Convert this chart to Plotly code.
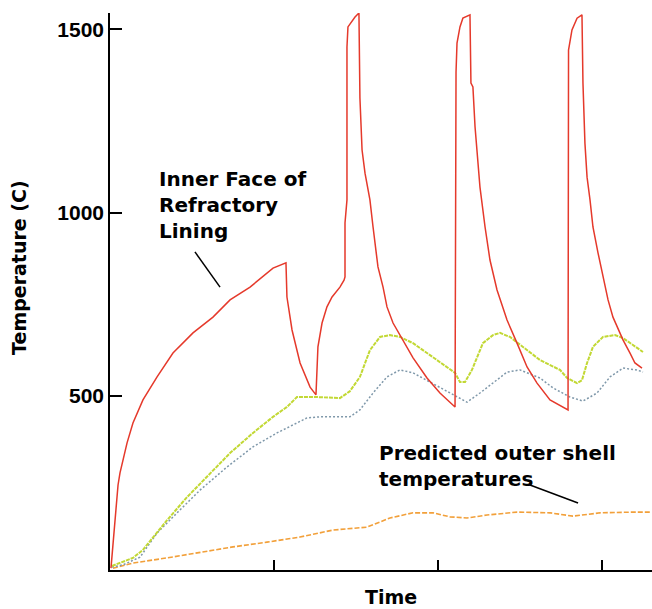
import plotly.graph_objects as go

# ---- data (time in arbitrary units, temperature in C) ----
inner_t = [0.006, 0.018, 0.030, 0.037, 0.049, 0.061, 0.085, 0.104, 0.140, 0.201, 0.287, 0.384, 0.506, 0.628,
           0.732, 0.854, 0.994, 1.073, 1.079, 1.110, 1.159, 1.220, 1.256, 1.262, 1.268, 1.293, 1.323, 1.354,
           1.402, 1.427, 1.433, 1.433, 1.445, 1.445, 1.451, 1.494, 1.518, 1.524, 1.537, 1.555, 1.585, 1.604,
           1.634, 1.665, 1.689, 1.726, 1.768, 1.848, 1.933, 2.012, 2.104, 2.110, 2.116, 2.134, 2.152, 2.195,
           2.201, 2.213, 2.226, 2.238, 2.256, 2.287, 2.317, 2.360, 2.421, 2.482, 2.543, 2.604, 2.683, 2.793,
           2.793, 2.796, 2.817, 2.848, 2.878, 2.884, 2.896, 2.909, 2.927, 2.945, 2.976, 3.006, 3.037, 3.067,
           3.128, 3.171, 3.201, 3.244]
inner_v = [30, 93, 161, 197, 257, 290, 339, 372, 426, 489, 552, 617, 672, 715,
           762, 797, 849, 863, 770, 680, 590, 524, 503, 579, 634, 699, 743, 770,
           797, 816, 825, 972, 1035, 1452, 1507, 1534, 1545, 1313, 1171, 1108, 1035, 961,
           852, 797, 743, 699, 666, 604, 549, 508, 470, 1384, 1463, 1507, 1531, 1540,
           1354, 1343, 1234, 1163, 1070, 961, 871, 789, 707, 644, 579, 535, 489, 462,
           1335, 1444, 1499, 1531, 1540, 1354, 1190, 1097, 1035, 961, 890, 825, 762, 715,
           653, 617, 590, 576]

mid_t = [0.012, 0.061, 0.140, 0.201, 0.348, 0.470, 0.591, 0.732, 0.872, 0.994, 1.079, 1.140, 1.262, 1.402,
         1.463, 1.524, 1.585, 1.646, 1.707, 1.768, 1.848, 1.951, 2.055, 2.104, 2.134, 2.165, 2.207, 2.238,
         2.274, 2.335, 2.378, 2.439, 2.518, 2.622, 2.744, 2.787, 2.848, 2.878, 2.909, 2.945, 3.006, 3.079,
         3.128, 3.189, 3.250]
mid_v = [36, 44, 58, 80, 161, 224, 279, 344, 399, 443, 470, 497, 497, 494,
         513, 552, 625, 661, 666, 661, 644, 612, 579, 563, 538, 538, 571, 606,
         644, 666, 672, 661, 634, 598, 571, 549, 535, 543, 590, 634, 661, 666,
         658, 639, 620]

deep_t = [0.012, 0.079, 0.183, 0.287, 0.409, 0.549, 0.713, 0.872, 1.018, 1.140, 1.201, 1.280, 1.463, 1.524,
          1.604, 1.689, 1.768, 1.848, 1.951, 2.055, 2.177, 2.256, 2.335, 2.421, 2.500, 2.622, 2.701, 2.805,
          2.884, 2.970, 3.049, 3.128, 3.213, 3.250]
deep_v = [33, 39, 60, 126, 181, 243, 306, 361, 399, 426, 440, 443, 443, 462,
          508, 552, 571, 563, 538, 511, 483, 508, 535, 565, 571, 549, 522, 497,
          486, 508, 552, 576, 571, 565]

shell_t = [0.018, 0.140, 0.348, 0.549, 0.750, 0.957, 1.159, 1.360, 1.567, 1.707, 1.848, 1.970, 2.073, 2.177,
           2.299, 2.482, 2.683, 2.823, 2.988, 3.189, 3.293]
shell_v = [30, 44, 58, 74, 88, 101, 115, 134, 142, 167, 181, 181, 170, 167,
           175, 183, 181, 172, 181, 183, 183]

y_ticks = [500, 1000, 1500]
y_tick_labels = ["500", "1000", "1500"]
x_ticks = [1, 2, 3]

FONT = "DejaVu Sans"

fig = go.Figure()
fig.add_trace(go.Scatter(x=shell_t, y=shell_v, mode="lines",
                         line=dict(color="#f2a03a", width=1.6, dash="5px,2px")))
fig.add_trace(go.Scatter(x=deep_t, y=deep_v, mode="lines",
                         line=dict(color="#7f98aa", width=1.5, dash="2px,2px")))
fig.add_trace(go.Scatter(x=mid_t, y=mid_v, mode="lines",
                         line=dict(color="#c2d834", width=2, dash="4px,1px")))
fig.add_trace(go.Scatter(x=inner_t, y=inner_v, mode="lines",
                         line=dict(color="#e5392b", width=1.5)))

fig.update_layout(
    width=652, height=609,
    margin=dict(l=110, r=0, t=13, b=39),
    paper_bgcolor="white", plot_bgcolor="white",
    showlegend=False,
    xaxis=dict(range=[0, 3.305], showgrid=False, zeroline=False, showline=True,
               linecolor="black", linewidth=1.5, ticks="inside", ticklen=10,
               tickwidth=1.5, tickcolor="black", tickvals=x_ticks, showticklabels=False),
    yaxis=dict(range=[25, 1545], showgrid=False, zeroline=False, showline=True,
               linecolor="black", linewidth=1.5, ticks="inside", ticklen=12,
               tickwidth=1.5, tickcolor="black", tickvals=y_ticks, ticktext=y_tick_labels,
               tickfont=dict(family="Liberation Sans", size=21, color="black", weight="bold")),
)

fig.add_annotation(text="Inner Face of<br>Refractory<br>Lining", x=0.287, y=1021,
                   xref="x", yref="y", xanchor="left", yanchor="middle", align="left",
                   showarrow=False, font=dict(family=FONT, size=20, color="black", weight="bold"))
fig.add_annotation(text="Predicted outer shell<br>temperatures", x=1.628, y=310,
                   xref="x", yref="y", xanchor="left", yanchor="middle", align="left",
                   showarrow=False, font=dict(family=FONT, size=20, color="black", weight="bold"))
fig.add_shape(type="line", x0=0.518, y0=893, x1=0.671, y1=797, xref="x", yref="y",
              line=dict(color="black", width=1.5))
fig.add_shape(type="line", x0=2.561, y0=257, x1=2.854, y1=208, xref="x", yref="y",
              line=dict(color="black", width=1.5))

fig.add_annotation(text="Temperature (C)", x=-0.168, y=0.544, xref="paper", yref="paper",
                   textangle=-90, showarrow=False, xanchor="center", yanchor="middle",
                   font=dict(family=FONT, size=19, color="black", weight="bold"))
fig.add_annotation(text="Time", x=0.518, y=-0.0485, xref="paper", yref="paper",
                   showarrow=False, xanchor="center", yanchor="middle",
                   font=dict(family=FONT, size=19, color="black", weight="bold"))

# remove the default 8px page margin so the 652x609 figure fills the window exactly
fig.write_html("out.html",
               config={"displayModeBar": False},
               post_script="document.body.style.margin='0';document.body.style.overflow='hidden';")
